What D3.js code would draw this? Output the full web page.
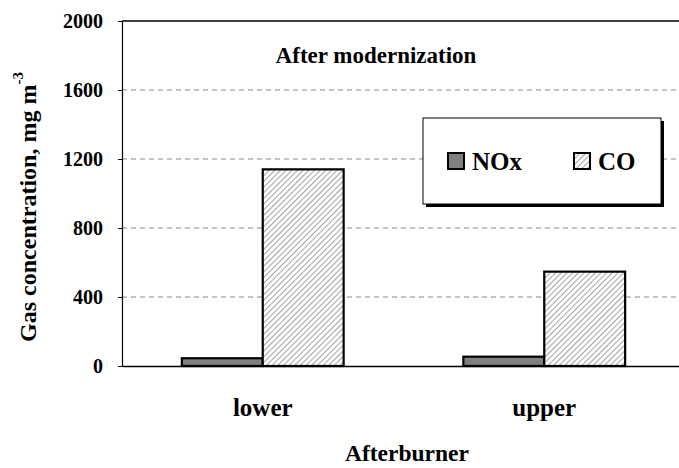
<!DOCTYPE html>
<html>
<head>
<meta charset="utf-8">
<script src="https://cdn.jsdelivr.net/npm/d3@7"></script>
<style>
  body { margin: 0; background: #fff; }
</style>
</head>
<body>
<div id="chart"></div>
<script>
// data
const categories = ["lower", "upper"];
const series = ["NOx", "CO"];
const noxValues = [45, 54];
const coValues = [1140, 547];
const yTicks = [0, 400, 800, 1200, 1600, 2000];

const width = 679, height = 468;
const margin = {top: 21, left: 122, right: -6, bottom: 102};
const FONT = '"Liberation Serif"';

const svg = d3.select("#chart").append("svg")
    .attr("width", width)
    .attr("height", height);

// hatch pattern for CO
const defs = svg.append("defs");
const pat = defs.append("pattern")
    .attr("id", "hatch")
    .attr("patternUnits", "userSpaceOnUse")
    .attr("width", 4).attr("height", 4)
    .attr("patternTransform", "rotate(45)");
pat.append("rect").attr("width", 4).attr("height", 4).attr("fill", "#fff");
pat.append("line").attr("x1", 0).attr("y1", 0).attr("x2", 0).attr("y2", 4)
    .attr("stroke", "#8a8a8a").attr("stroke-width", 1.6);

const xScale = d3.scaleBand()
    .domain(categories)
    .range([margin.left, width - margin.right]);

const xInner = d3.scaleBand()
    .domain(series)
    .range([0, xScale.bandwidth()])
    .paddingInner(0)
    .paddingOuter(0.74);

const yScale = d3.scaleLinear()
    .domain([0, 2000])
    .range([height - margin.bottom, margin.top]);

// gridlines
svg.append("g")
    .selectAll("line")
    .data(yTicks.filter(d => d > 0 && d < 2000))
    .enter().append("line")
    .attr("x1", margin.left).attr("x2", width)
    .attr("y1", d => yScale(d)).attr("y2", d => yScale(d))
    .attr("stroke", "#888").attr("stroke-width", 1)
    .attr("stroke-dasharray", "5,4");

// top frame line
svg.append("line")
    .attr("x1", margin.left).attr("x2", width)
    .attr("y1", yScale(2000)).attr("y2", yScale(2000))
    .attr("stroke", "#000").attr("stroke-width", 1.5);

// bars
const rows = categories.map((c, i) => ({cat: c, vals: [
    {s: "NOx", v: noxValues[i]}, {s: "CO", v: coValues[i]}]}));

const groups = svg.selectAll("g.grp")
    .data(rows).enter().append("g")
    .attr("class", "grp")
    .attr("transform", d => `translate(${xScale(d.cat)},0)`);

groups.selectAll("rect")
    .data(d => d.vals).enter().append("rect")
    .attr("x", d => xInner(d.s))
    .attr("width", xInner.bandwidth())
    .attr("y", d => yScale(d.v))
    .attr("height", d => yScale(0) - yScale(d.v))
    .attr("fill", d => d.s === "NOx" ? "#808080" : "url(#hatch)")
    .attr("stroke", "#000")
    .attr("stroke-width", 2.2);

// axes
const yAxis = svg.append("g")
    .attr("transform", `translate(${margin.left},0)`)
    .call(d3.axisLeft(yScale).tickValues(yTicks).tickFormat(d3.format("d")).tickSize(4).tickPadding(15));
yAxis.select(".domain").attr("stroke", "#000").attr("stroke-width", 1.2);
yAxis.selectAll("text")
    .style("font-family", FONT).style("font-weight", "bold").style("font-size", "20px");

const xAxis = svg.append("g")
    .attr("transform", `translate(0,${yScale(0)})`)
    .call(d3.axisBottom(xScale).tickSize(0).tickPadding(32));
xAxis.select(".domain").attr("stroke", "#000").attr("stroke-width", 1.5);
xAxis.selectAll("text")
    .style("font-family", FONT).style("font-weight", "bold").style("font-size", "25px");

// title
svg.append("text")
    .attr("x", 376).attr("y", 63)
    .attr("text-anchor", "middle")
    .style("font-family", FONT).style("font-weight", "bold")
    .style("font-size", "23px")
    .text("After modernization");

// axis labels
svg.append("text")
    .attr("x", 407).attr("y", 461)
    .attr("text-anchor", "middle")
    .style("font-family", FONT).style("font-weight", "bold")
    .style("font-size", "23.5px")
    .text("Afterburner");

const yl = svg.append("text")
    .attr("transform", "rotate(-90)")
    .attr("x", -207)
    .attr("y", 36)
    .attr("text-anchor", "middle")
    .style("font-family", FONT).style("font-weight", "bold")
    .style("font-size", "24px");
yl.append("tspan").text("Gas concentration, mg m");
yl.append("tspan").attr("dy", -13).style("font-size", "15px").text("-3");

// legend
const lg = svg.append("g").attr("transform", "translate(423,118)");
lg.append("rect").attr("x", 3).attr("y", 3).attr("width", 238).attr("height", 86).attr("fill", "#000");
lg.append("rect").attr("width", 238).attr("height", 86)
    .attr("fill", "#fff").attr("stroke", "#000").attr("stroke-width", 1);

const items = lg.selectAll("g.item")
    .data(series).enter().append("g")
    .attr("class", "item")
    .attr("transform", (d, i) => `translate(${25 + i * 126},35)`);
items.append("rect")
    .attr("width", 16).attr("height", 16)
    .attr("fill", d => d === "NOx" ? "#808080" : "url(#hatch)")
    .attr("stroke", "#000").attr("stroke-width", 2);
items.append("text")
    .attr("x", 24).attr("y", 17)
    .style("font-family", FONT).style("font-weight", "bold")
    .style("font-size", "25px")
    .text(d => d);
</script>
</body>
</html>
